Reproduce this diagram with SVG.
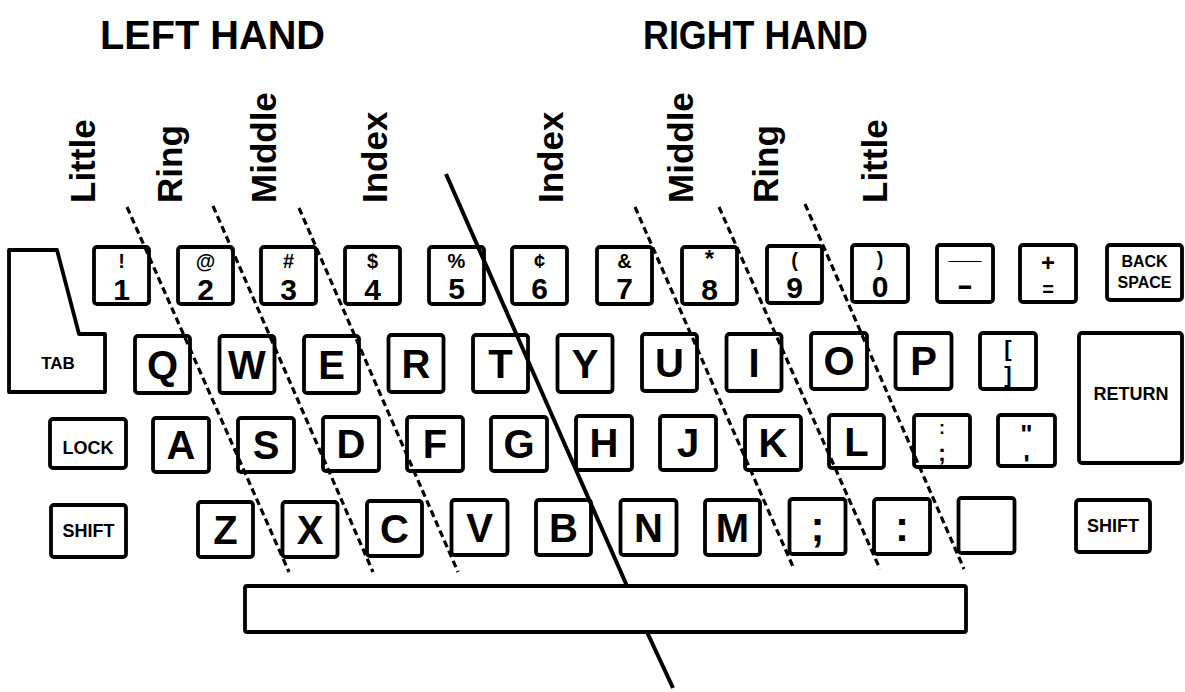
<svg xmlns="http://www.w3.org/2000/svg" width="1185" height="692" viewBox="0 0 1185 692">
<style>
.k{fill:#fff;stroke:#000;stroke-width:3.8;stroke-linejoin:round}
.t{font-family:"Liberation Sans",Arial,Helvetica,sans-serif;font-weight:bold;text-anchor:middle;fill:#000}
.L{font-size:40px}
.d{font-size:30px}
.s{font-size:20px}
.m{font-size:16px}
.h{font-family:"Liberation Sans",Arial,Helvetica,sans-serif;font-weight:bold;fill:#000}
.f{font-family:"Liberation Sans",Arial,Helvetica,sans-serif;font-weight:bold;font-size:35px;fill:#000}
.dash{fill:none;stroke:#000;stroke-width:3.2;stroke-dasharray:7 4}
.solid{fill:none;stroke:#000;stroke-width:4}
</style>
<rect width="1185" height="692" fill="#fff"/>
<g id="titles">
<text class="h" x="100" y="49" font-size="40" textLength="225" lengthAdjust="spacingAndGlyphs">LEFT HAND</text>
<text class="h" x="643" y="49" font-size="40" textLength="225" lengthAdjust="spacingAndGlyphs">RIGHT HAND</text>
</g>
<g id="finger-labels">
<text class="f" transform="translate(95,203) rotate(-90)">Little</text>
<text class="f" transform="translate(182,203) rotate(-90)">Ring</text>
<text class="f" transform="translate(276,203) rotate(-90)">Middle</text>
<text class="f" transform="translate(387,203) rotate(-90)">Index</text>
<text class="f" transform="translate(563,203) rotate(-90)">Index</text>
<text class="f" transform="translate(693,203) rotate(-90)">Middle</text>
<text class="f" transform="translate(778,203) rotate(-90)">Ring</text>
<text class="f" transform="translate(887,203) rotate(-90)">Little</text>
</g>
<g id="row-numbers">
<g id="key-1"><rect class="k" x="94" y="247" width="55" height="57" rx="3"/><text class="t s" x="121.5" y="268">!</text><text class="t d" x="121.5" y="300">1</text></g>
<g id="key-2"><rect class="k" x="178" y="247" width="55" height="57" rx="3"/><text class="t s" x="205.5" y="268">@</text><text class="t d" x="205.5" y="300">2</text></g>
<g id="key-3"><rect class="k" x="261" y="247" width="55" height="57" rx="3"/><text class="t s" x="288.5" y="268">#</text><text class="t d" x="288.5" y="300">3</text></g>
<g id="key-4"><rect class="k" x="345" y="247" width="55" height="57" rx="3"/><text class="t s" x="372.5" y="268">$</text><text class="t d" x="372.5" y="300">4</text></g>
<g id="key-5"><rect class="k" x="429" y="247" width="55" height="57" rx="3"/><text class="t s" x="456.5" y="268">%</text><text class="t d" x="456.5" y="299">5</text></g>
<g id="key-6"><rect class="k" x="512" y="247" width="55" height="57" rx="3"/><text class="t s" x="539.5" y="268">¢</text><text class="t d" x="539.5" y="299">6</text></g>
<g id="key-7"><rect class="k" x="597" y="247" width="55" height="57" rx="3"/><text class="t s" x="624.5" y="268">&amp;</text><text class="t d" x="624.5" y="299">7</text></g>
<g id="key-8"><rect class="k" x="682" y="247" width="55" height="57" rx="3"/><text class="t" font-size="24" x="709.5" y="267">*</text><text class="t d" x="709.5" y="300">8</text></g>
<g id="key-9"><rect class="k" x="767" y="246" width="55" height="57" rx="3"/><text class="t s" x="794.5" y="267">(</text><text class="t d" x="794.5" y="298">9</text></g>
<g id="key-0"><rect class="k" x="852" y="245" width="56" height="57" rx="3"/><text class="t s" x="880" y="266">)</text><text class="t d" x="880" y="297">0</text></g>
<g id="key-minus"><rect class="k" x="937" y="245" width="56" height="57" rx="3"/><text class="t" font-size="24" x="965" y="259" textLength="32" lengthAdjust="spacingAndGlyphs">_</text><text class="t" font-size="30" x="965" y="295" textLength="16" lengthAdjust="spacingAndGlyphs">-</text></g>
<g id="key-plus"><rect class="k" x="1020" y="245" width="56" height="57" rx="3"/><text class="t" font-size="24" x="1048" y="271">+</text><text class="t" font-size="20" x="1048" y="296">=</text></g>
<g id="key-backspace"><rect class="k" x="1107" y="245" width="75" height="55" rx="3"/><text class="t m" x="1144.5" y="267">BACK</text><text class="t m" x="1144.5" y="288">SPACE</text></g>
</g>
<g id="row-qwerty">
<g id="key-tab"><path class="k" d="M9,250 L57,250 L79,334 L105,334 L105,392 L9,392 Z"/><text class="t" font-size="17" x="58" y="369">TAB</text></g>
<g id="key-q"><rect class="k" x="135" y="336" width="55" height="57" rx="3"/><text class="t L" x="162.5" y="379">Q</text></g>
<g id="key-w"><rect class="k" x="219.5" y="336" width="55" height="57" rx="3"/><text class="t L" x="247" y="379">W</text></g>
<g id="key-e"><rect class="k" x="304" y="336" width="55" height="57" rx="3"/><text class="t L" x="331.5" y="379">E</text></g>
<g id="key-r"><rect class="k" x="388.5" y="335" width="55" height="57" rx="3"/><text class="t L" x="416" y="378">R</text></g>
<g id="key-t"><rect class="k" x="473" y="335" width="55" height="57" rx="3"/><text class="t L" x="500.5" y="378">T</text></g>
<g id="key-y"><rect class="k" x="557.5" y="335" width="55" height="57" rx="3"/><text class="t L" x="585" y="378">Y</text></g>
<g id="key-u"><rect class="k" x="642" y="334" width="55" height="57" rx="3"/><text class="t L" x="669.5" y="377">U</text></g>
<g id="key-i"><rect class="k" x="726.5" y="334" width="55" height="57" rx="3"/><text class="t L" x="754" y="377">I</text></g>
<g id="key-o"><rect class="k" x="811" y="333" width="56" height="56" rx="3"/><text class="t L" x="839" y="375">O</text></g>
<g id="key-p"><rect class="k" x="895.5" y="333" width="56" height="56" rx="3"/><text class="t L" x="923.5" y="375">P</text></g>
<g id="key-bracket"><rect class="k" x="980" y="333" width="56" height="56" rx="3"/><text class="t" font-size="22" x="1008" y="356">[</text><text class="t" font-size="22" x="1008" y="382">]</text></g>
<g id="key-return"><rect class="k" x="1079" y="333" width="103" height="130" rx="3"/><text class="t" font-size="18" x="1131" y="400">RETURN</text></g>
</g>
<g id="row-asdf">
<g id="key-lock"><rect class="k" x="50" y="419" width="76" height="49" rx="3"/><text class="t" font-size="18" x="88" y="454">LOCK</text></g>
<g id="key-a"><rect class="k" x="153" y="418" width="56" height="54" rx="3"/><text class="t L" x="181" y="459">A</text></g>
<g id="key-s"><rect class="k" x="238" y="418" width="56" height="54" rx="3"/><text class="t L" x="266" y="459">S</text></g>
<g id="key-d"><rect class="k" x="323" y="417" width="56" height="54" rx="3"/><text class="t L" x="351" y="458">D</text></g>
<g id="key-f"><rect class="k" x="407" y="417" width="56" height="54" rx="3"/><text class="t L" x="435" y="458">F</text></g>
<g id="key-g"><rect class="k" x="491" y="417" width="56" height="54" rx="3"/><text class="t L" x="519" y="458">G</text></g>
<g id="key-h"><rect class="k" x="576" y="416" width="56" height="54" rx="3"/><text class="t L" x="604" y="457">H</text></g>
<g id="key-j"><rect class="k" x="660" y="416" width="56" height="54" rx="3"/><text class="t L" x="688" y="457">J</text></g>
<g id="key-k"><rect class="k" x="745" y="416" width="56" height="54" rx="3"/><text class="t L" x="773" y="457">K</text></g>
<g id="key-l"><rect class="k" x="829" y="415" width="55" height="53" rx="3"/><text class="t L" x="856.5" y="456">L</text></g>
<g id="key-semicolon"><rect class="k" x="914" y="415" width="56" height="52" rx="3"/><text class="t" font-size="18" x="942" y="434">:</text><text class="t" font-size="24" x="942" y="461">;</text></g>
<g id="key-quote"><rect class="k" x="998" y="415" width="57" height="51" rx="3"/><text class="t" font-size="26" x="1026.5" y="443">"</text><text class="t" font-size="26" x="1026.5" y="473">'</text></g>
</g>
<g id="row-zxcv">
<g id="key-shift-left"><rect class="k" x="51" y="505" width="75" height="52" rx="3"/><text class="t" font-size="18" x="88.5" y="537">SHIFT</text></g>
<g id="key-z"><rect class="k" x="198" y="502" width="55" height="55" rx="3"/><text class="t L" x="225.5" y="544">Z</text></g>
<g id="key-x"><rect class="k" x="282.5" y="502" width="55" height="55" rx="3"/><text class="t L" x="310" y="544">X</text></g>
<g id="key-c"><rect class="k" x="367" y="501" width="55" height="55" rx="3"/><text class="t L" x="394.5" y="543">C</text></g>
<g id="key-v"><rect class="k" x="451.5" y="500" width="56" height="55" rx="3"/><text class="t L" x="479.5" y="542">V</text></g>
<g id="key-b"><rect class="k" x="536" y="500" width="55" height="55" rx="3"/><text class="t L" x="563.5" y="542">B</text></g>
<g id="key-n"><rect class="k" x="620.5" y="500" width="56" height="55" rx="3"/><text class="t L" x="648.5" y="542">N</text></g>
<g id="key-m"><rect class="k" x="705" y="500" width="55" height="55" rx="3"/><text class="t L" x="732.5" y="542">M</text></g>
<g id="key-comma"><rect class="k" x="789.5" y="499" width="56" height="55" rx="3"/><text class="t" font-size="42" x="817.5" y="541">;</text></g>
<g id="key-period"><rect class="k" x="874" y="499" width="56" height="55" rx="3"/><text class="t" font-size="42" x="902" y="541">:</text></g>
<g id="key-blank"><rect class="k" x="958.5" y="498" width="56" height="55" rx="3"/></g>
<g id="key-shift-right"><rect class="k" x="1076" y="500" width="74" height="52" rx="3"/><text class="t" font-size="18" x="1113" y="532">SHIFT</text></g>
</g>
<g id="key-space"><rect class="k" x="245" y="586" width="721" height="46" rx="2" stroke-width="4"/></g>
<g id="connectors">
<line class="dash" x1="127" y1="207" x2="289" y2="572"/>
<line class="dash" x1="213" y1="206" x2="373" y2="572"/>
<line class="dash" x1="299" y1="208" x2="458" y2="572"/>
<line class="dash" x1="635" y1="207" x2="794" y2="569"/>
<line class="dash" x1="719" y1="207" x2="880" y2="569"/>
<line class="dash" x1="805" y1="204" x2="964" y2="569"/>
<line class="solid" x1="446" y1="174" x2="627" y2="586"/>
<line class="solid" x1="647" y1="632" x2="673" y2="688"/>
</g>
</svg>
